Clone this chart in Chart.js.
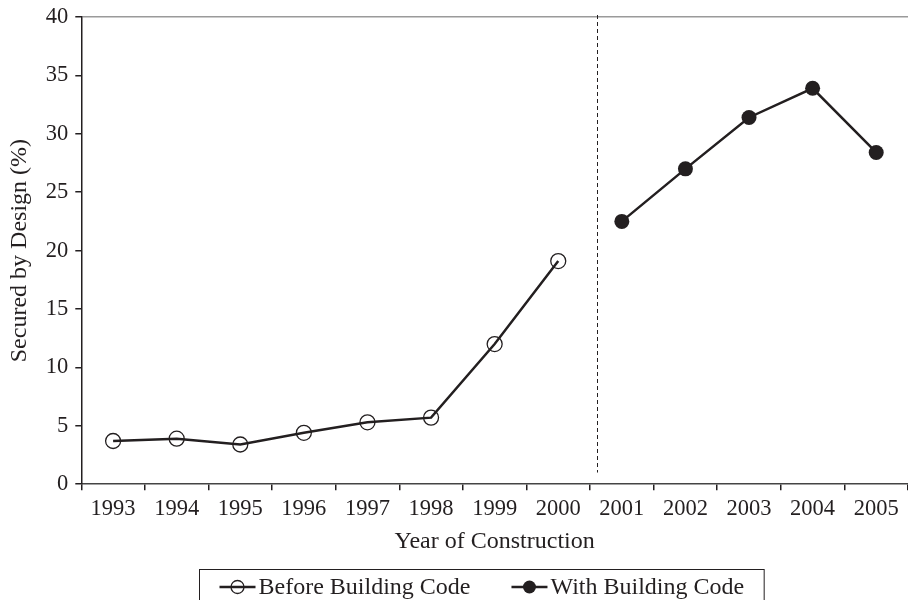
<!DOCTYPE html>
<html>
<head>
<meta charset="utf-8">
<title>Secured by Design</title>
<script src="https://cdn.jsdelivr.net/npm/chart.js@4"></script>
<style>
  html, body { margin: 0; padding: 0; background: #fff; }
  canvas { display: block; }
</style>
</head>
<body>
<canvas id="sbdChart" width="908" height="600"></canvas>
<script>
// data
const years = ['1993', '1994', '1995', '1996', '1997', '1998', '1999', '2000', '2001', '2002', '2003', '2004', '2005'];
const beforeCode = [3.7, 3.9, 3.4, 4.4, 5.3, 5.7, 12.0, 19.1];   // 1993-2000
const withCode = [22.5, 27.0, 31.4, 33.9, 28.4];                // 2001-2005
const yTicks = [0, 5, 10, 15, 20, 25, 30, 35, 40];

const ink = '#231f20';
const serif = 'Liberation Serif';

// pad each series out to the full year axis
const beforeData = years.map((y, i) => i < beforeCode.length ? beforeCode[i] : null);
const withData = years.map((y, i) => {
  const j = i - (years.length - withCode.length);
  return j >= 0 ? withCode[j] : null;
});

// dashed separator between 2000 and 2001
const dividerLine = {
  id: 'dividerLine',
  afterDatasetsDraw(chart) {
    const xs = chart.scales.x, ys = chart.scales.y;
    const a = xs.getPixelForValue(beforeCode.length - 1);
    const b = xs.getPixelForValue(beforeCode.length);
    const x = Math.round((a + b) / 2 + (b - a) * 0.11) + 0.5;
    const ctx = chart.ctx;
    ctx.save();
    ctx.strokeStyle = ink;
    ctx.lineWidth = 1;
    ctx.setLineDash([4, 3]);
    ctx.beginPath();
    ctx.moveTo(x, chart.chartArea.top - 2);
    ctx.lineTo(x, ys.getPixelForValue(1));
    ctx.stroke();
    ctx.restore();
  }
};

// boxed legend under the axis title
const boxLegend = {
  id: 'boxLegend',
  afterDraw(chart) {
    const ctx = chart.ctx;
    const sets = chart.data.datasets;
    ctx.save();
    ctx.font = '24px "' + serif + '"';
    ctx.textBaseline = 'middle';
    const iconW = 36, gap = 3, itemGap = 41, padX = 20;
    const widths = sets.map(ds => iconW + gap + ctx.measureText(ds.label).width);
    const inner = widths.reduce((s, w) => s + w, 0) + itemGap * (sets.length - 1);
    const boxW = inner + padX * 2;
    const left = Math.round(chart.width * 0.53 - boxW / 2) + 0.5;
    const top = 569.5;
    const cy = 587;
    ctx.strokeStyle = ink;
    ctx.lineWidth = 1;
    ctx.strokeRect(left, top, boxW, 45);
    let x = left + padX;
    sets.forEach((ds, i) => {
      ctx.strokeStyle = ink;
      ctx.lineWidth = 2.5;
      ctx.beginPath();
      ctx.moveTo(x, cy);
      ctx.lineTo(x + iconW, cy);
      ctx.stroke();
      ctx.beginPath();
      ctx.arc(x + iconW / 2, cy, 6.5, 0, Math.PI * 2);
      if (ds.pointBackgroundColor === ink) {
        ctx.fillStyle = ink;
        ctx.fill();
      } else {
        // open marker, the line shows through it
        ctx.lineWidth = 1.3;
        ctx.stroke();
      }
      ctx.fillStyle = ink;
      ctx.fillText(ds.label, x + iconW + gap, cy + 1);
      x += widths[i] + itemGap;
    });
    ctx.restore();
  }
};

const ctx = document.getElementById('sbdChart').getContext('2d');
const sbdChart = new Chart(ctx, {
  type: 'line',
  data: {
    labels: years,
    datasets: [
      {
        label: 'Before Building Code',
        data: beforeData,
        borderColor: ink,
        borderWidth: 2.5,
        pointStyle: 'circle',
        pointRadius: 7.5,
        pointBorderWidth: 1.3,
        pointBorderColor: ink,
        pointBackgroundColor: 'rgba(0,0,0,0)',
        spanGaps: false,
        tension: 0
      },
      {
        label: 'With Building Code',
        data: withData,
        borderColor: ink,
        borderWidth: 2.5,
        pointStyle: 'circle',
        pointRadius: 7.5,
        pointBorderWidth: 0,
        pointBorderColor: ink,
        pointBackgroundColor: ink,
        spanGaps: false,
        tension: 0
      }
    ]
  },
  options: {
    responsive: false,
    animation: false,
    devicePixelRatio: 1,
    layout: { autoPadding: false, padding: { top: 0, right: 0, bottom: 44, left: 0 } },
    plugins: {
      legend: { display: false },
      tooltip: { enabled: false }
    },
    scales: {
      x: {
        type: 'category',
        offset: true,
        grid: {
          offset: true,
          drawOnChartArea: false,
          tickLength: 6,
          tickColor: ink,
          lineWidth: 1.5
        },
        border: { color: '#444', width: 1.5 },
        ticks: {
          color: ink,
          padding: 5,
          maxRotation: 0,
          autoSkip: false,
          font: { family: serif, size: 22.5 }
        },
        title: {
          display: true,
          text: 'Year of Construction',
          color: ink,
          padding: { top: 0, bottom: 0 },
          font: { family: serif, size: 24 }
        }
      },
      y: {
        min: 0,
        max: 40,
        afterBuildTicks(scale) {
          scale.ticks = yTicks.map(v => ({ value: v }));
        },
        afterFit(scale) {
          // top label only needs half its height above the plot
          scale.paddingTop = 17;
        },
        grid: {
          color: c => c.tick && c.tick.value === 40 ? '#9a9a9a' : 'rgba(0,0,0,0)',
          tickColor: ink,
          tickLength: 6,
          lineWidth: 1.5
        },
        border: { color: ink, width: 1.5 },
        ticks: {
          color: ink,
          padding: 7,
          font: { family: serif, size: 22.5 }
        },
        title: {
          display: true,
          text: 'Secured by Design (%)',
          color: ink,
          padding: { top: 5, bottom: 5 },
          font: { family: serif, size: 24 }
        }
      }
    }
  },
  plugins: [dividerLine, boxLegend]
});
</script>
</body>
</html>
